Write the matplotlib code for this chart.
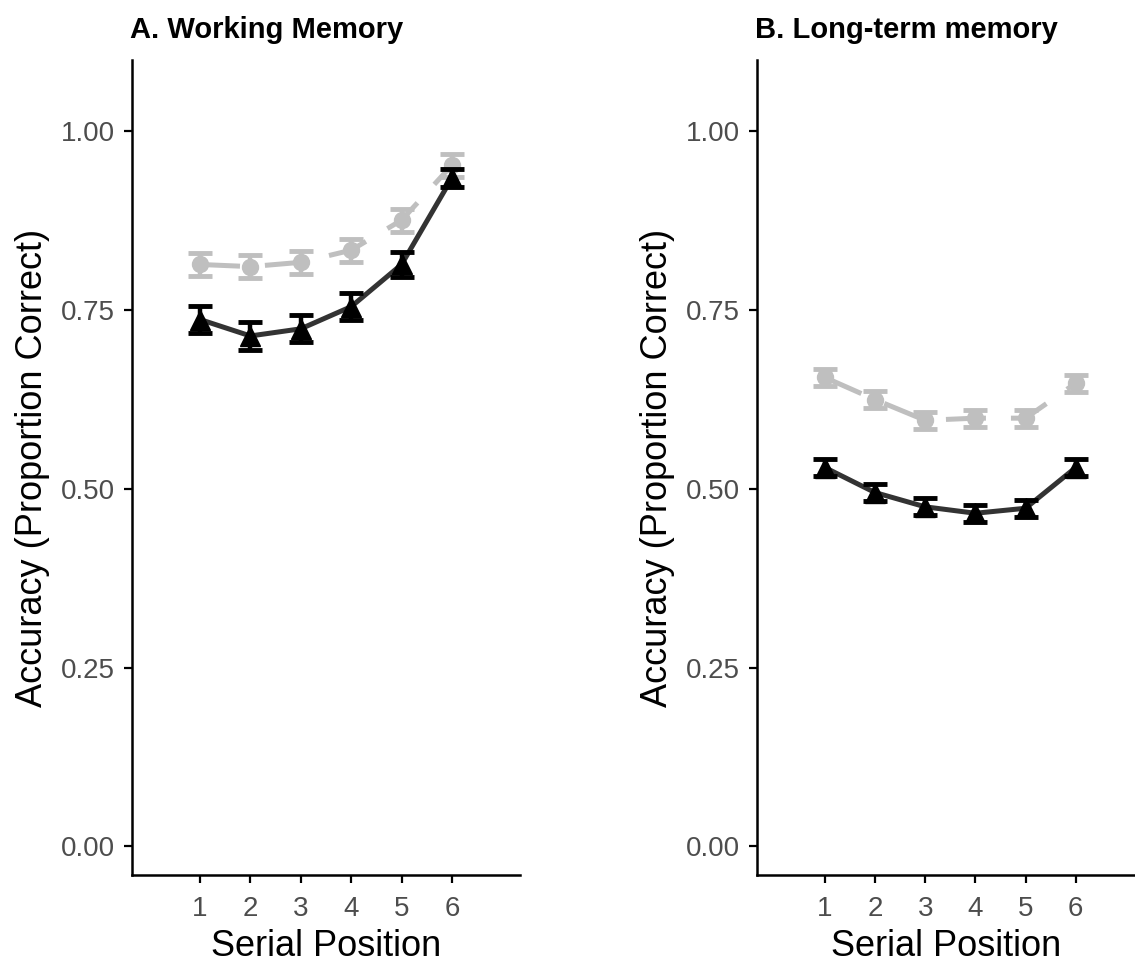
import matplotlib
matplotlib.use("Agg")
import matplotlib.pyplot as plt
import numpy as np

plt.rcParams['font.family'] = ['Liberation Sans', 'DejaVu Sans']

positions = [1, 2, 3, 4, 5, 6]

# A. working memory
wm_gray = [0.814, 0.811, 0.817, 0.834, 0.876, 0.953]
wm_gray_err = [0.016, 0.016, 0.016, 0.016, 0.016, 0.016]
wm_black = [0.737, 0.714, 0.724, 0.755, 0.814, 0.935]
wm_black_err = [0.019, 0.019, 0.019, 0.019, 0.017, 0.012]

# B. long-term memory
ltm_gray = [0.656, 0.625, 0.596, 0.599, 0.599, 0.648]
ltm_gray_err = [0.012, 0.012, 0.012, 0.012, 0.012, 0.012]
ltm_black = [0.530, 0.495, 0.475, 0.466, 0.473, 0.530]
ltm_black_err = [0.012, 0.012, 0.012, 0.012, 0.012, 0.012]

titles = ["A. Working Memory", "B. Long-term memory"]
yticks = [0.0, 0.25, 0.5, 0.75, 1.0]
ytick_labels = ["0.00", "0.25", "0.50", "0.75", "1.00"]

fig = plt.figure(figsize=(11.35, 9.64), dpi=100)
axes = [fig.add_axes([132/1135, 1-875/964, 388/1135, 815/964]),
        fig.add_axes([757/1135, 1-875/964, 378/1135, 815/964])]

panels = [(wm_gray, wm_gray_err, wm_black, wm_black_err),
          (ltm_gray, ltm_gray_err, ltm_black, ltm_black_err)]

for ax, (g, ge, b, be), title, xmax in zip(axes, panels, titles, [7.35, 7.18]):
    ax.errorbar(positions, g, yerr=ge, color="#bfbfbf", ecolor="#bfbfbf",
                elinewidth=3.2, capsize=8.5, capthick=3.5, lw=3.6,
                dashes=(8, 5), marker="o", ms=11.5, zorder=2)
    ax.plot(positions, b, color="#333333", lw=3.6, zorder=3)
    ax.errorbar(positions, b, yerr=be, fmt="none", ecolor="black",
                elinewidth=3.2, capsize=8.5, capthick=3.5, zorder=4)
    ax.plot(positions, b, ls="none", marker="^", ms=14, color="black", zorder=5)

    ax.set_xlim(-0.35, xmax)
    ax.set_ylim(-0.04, 1.10)
    ax.set_xticks(positions)
    ax.set_yticks(yticks)
    ax.set_yticklabels(ytick_labels)
    for s in ["top", "right"]:
        ax.spines[s].set_visible(False)
    for s in ["left", "bottom"]:
        ax.spines[s].set_linewidth(1.8)
    ax.tick_params(length=6, width=1.6, labelsize=20, labelcolor="#4d4d4d", pad=6)
    ax.tick_params(axis="x", pad=9)
    ax.set_xlabel("Serial Position", fontsize=26, labelpad=5)
    ax.set_ylabel("Accuracy (Proportion Correct)", fontsize=26, labelpad=8)
    ax.set_title(title, loc="left", fontsize=21, fontweight="bold", pad=16, x=-0.005)

fig.savefig("out.png", dpi=100)
